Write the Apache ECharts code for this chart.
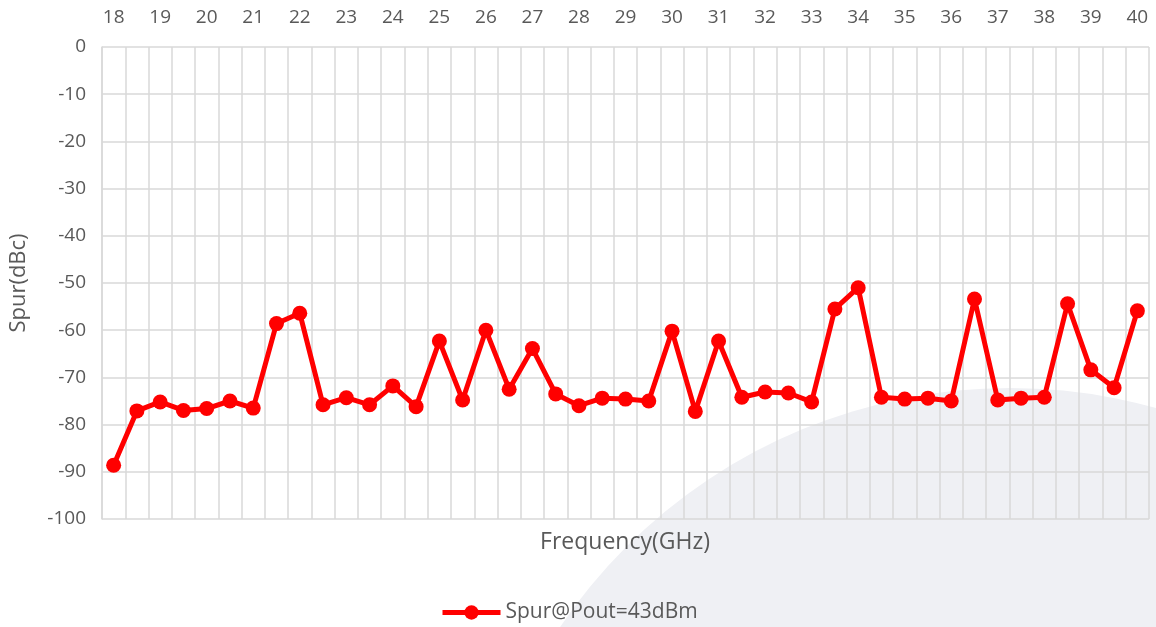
<!DOCTYPE html>
<html>
<head>
<meta charset="utf-8">
<title>Spur vs Frequency</title>
<script src="https://cdn.jsdelivr.net/npm/echarts@6/dist/echarts.min.js"></script>
<style>
  html, body { margin: 0; padding: 0; background: #fff; }
  #chart { width: 1156px; height: 627px; }
</style>
</head>
<body>
<div id="chart"></div>
<script>
// 频点 (GHz)
var freqs = [
  '18', '18.5', '19', '19.5', '20', '20.5', '21', '21.5', '22', '22.5',
  '23', '23.5', '24', '24.5', '25', '25.5', '26', '26.5', '27', '27.5',
  '28', '28.5', '29', '29.5', '30', '30.5', '31', '31.5', '32', '32.5',
  '33', '33.5', '34', '34.5', '35', '35.5', '36', '36.5', '37', '37.5',
  '38', '38.5', '39', '39.5', '40'
]
// Spur@Pout=43dBm (dBc)
var spur = [
  -88.6, -77.1, -75.2, -77.0, -76.6, -75.0, -76.5, -58.6, -56.4, -75.8,
  -74.3, -75.8, -71.8, -76.2, -62.3, -74.8, -60.0, -72.5, -63.9, -73.5,
  -76.0, -74.4, -74.6, -75.0, -60.2, -77.2, -62.3, -74.2, -73.1, -73.3,
  -75.2, -55.5, -51.0, -74.2, -74.6, -74.4, -75.0, -53.4, -74.8, -74.4,
  -74.2, -54.4, -68.4, -72.2, -55.9
]
var seriesName = 'Spur@Pout=43dBm'
var yTicks = { min: -100, max: 0, interval: 10 }

var font = '"Open Sans", "Noto Sans", sans-serif'
var textColor = '#595959'
var gridColor = '#d9d9d9'

var chart = echarts.init(document.getElementById('chart'))
chart.setOption({
  animation: false,
  backgroundColor: '#fff',
  textStyle: { fontFamily: font },
  // 右下角的浅灰色装饰
  graphic: [
    {
      type: 'circle',
      z: -10,
      silent: true,
      shape: { cx: 1010, cy: 931, r: 543 },
      style: { fill: '#eff0f4' }
    },
    {
      type: 'text',
      x: 625,
      y: 542,
      silent: true,
      style: {
        text: 'Frequency(GHz)',
        fill: textColor,
        font: '23px ' + font,
        textAlign: 'center',
        textVerticalAlign: 'middle'
      }
    }
  ],
  grid: {
    left: 102,
    right: 7,
    top: 47,
    bottom: 108
  },
  legend: {
    left: 435,
    top: 597,
    itemWidth: 58,
    itemHeight: 18,
    itemGap: 10,
    lineStyle: { width: 5 },
    textStyle: { color: textColor, fontSize: 21, fontFamily: font },
    data: [seriesName]
  },
  xAxis: {
    type: 'category',
    position: 'top',
    boundaryGap: true,
    data: freqs,
    axisLine: { show: false },
    axisTick: { show: false },
    axisLabel: {
      interval: 1,
      color: textColor,
      fontSize: 19,
      margin: 20
    },
    splitLine: {
      show: true,
      interval: 0,
      lineStyle: { color: gridColor, width: 1.5 }
    }
  },
  yAxis: {
    type: 'value',
    min: yTicks.min,
    max: yTicks.max,
    interval: yTicks.interval,
    name: 'Spur(dBc)',
    nameLocation: 'middle',
    nameGap: 72,
    nameRotate: 90,
    nameTextStyle: { color: textColor, fontSize: 22 },
    axisLine: { show: true, lineStyle: { color: gridColor, width: 1.5 } },
    axisTick: { show: false },
    axisLabel: { color: textColor, fontSize: 19, margin: 16 },
    splitLine: { lineStyle: { color: gridColor, width: 1.5 } }
  },
  series: [{
    name: seriesName,
    type: 'line',
    data: spur,
    symbol: 'circle',
    symbolSize: 15,
    lineStyle: { color: '#ff0000', width: 5 },
    itemStyle: { color: '#ff0000' }
  }]
})
</script>
</body>
</html>
